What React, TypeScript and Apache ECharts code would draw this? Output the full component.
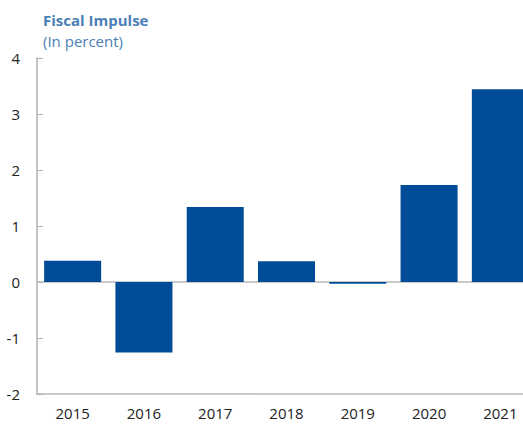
import React, { useEffect, useRef } from "react";
import * as echarts from "echarts";

const years = ["2015", "2016", "2017", "2018", "2019", "2020", "2021"];
const fiscalImpulse = [0.38, -1.26, 1.34, 0.37, -0.03, 1.73, 3.44];
const yTicks = { min: -2, max: 4, interval: 1 };

export default function App() {
  const ref = useRef<HTMLDivElement>(null);
  useEffect(() => {
    if (!ref.current) return;
    const chart = echarts.init(ref.current, null, { renderer: "svg" });
    const font = "'Open Sans', 'Noto Sans', sans-serif";
    chart.setOption({
      animation: false,
      backgroundColor: "#ffffff",
      textStyle: { fontFamily: font },
      title: {
        text: "Fiscal Impulse",
        subtext: "(In percent)",
        left: 38,
        top: 7,
        itemGap: 6,
        textStyle: { fontFamily: font, fontSize: 15, fontWeight: "bold", color: "#4a7fb6" },
        subtextStyle: { fontFamily: font, fontSize: 15, color: "#4a7fb6" },
      },
      grid: { left: 37, right: 0, top: 58, bottom: 32, containLabel: false },
      xAxis: {
        type: "category",
        data: years,
        axisLine: { onZero: false, lineStyle: { color: "#b8b8b8", width: 1.5 } },
        axisTick: { show: false },
        axisLabel: { color: "#222", fontSize: 15, margin: 11, fontFamily: font },
      },
      yAxis: {
        type: "value",
        min: yTicks.min,
        max: yTicks.max,
        interval: yTicks.interval,
        axisLine: { show: true, lineStyle: { color: "#b0b0b0", width: 1.5 } },
        axisTick: { show: true, inside: true, length: 6, lineStyle: { color: "#b0b0b0" } },
        splitLine: { show: false },
        axisLabel: { color: "#222", fontSize: 15, margin: 17, fontFamily: font },
      },
      series: [
        {
          type: "bar",
          data: fiscalImpulse,
          barCategoryGap: "20%",
          itemStyle: { color: "#004c97" },
          markLine: {
            silent: true,
            symbol: "none",
            label: { show: false },
            lineStyle: { color: "#b8b8b8", width: 1.5, type: "solid" },
            data: [{ yAxis: 0 }],
            z: 1,
          },
        },
      ],
    });
    return () => chart.dispose();
  }, []);
  return (
    <div
      ref={ref}
      style={{ position: "fixed", left: 0, top: 0, width: 536, height: 426 }}
    />
  );
}
